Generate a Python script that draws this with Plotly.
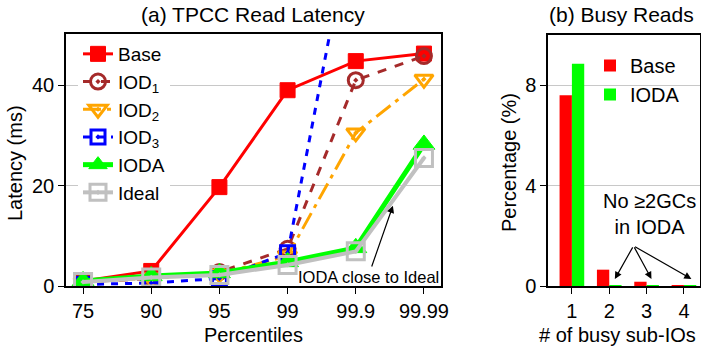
import plotly.graph_objects as go

# ---- data ----
percentiles = ["75", "90", "95", "99", "99.9", "99.99"]
base = [1.0, 3.0, 19.7, 39.0, 44.8, 46.3]
iod1 = [0.8, 1.5, 2.8, 7.4, 41.0, 45.8]
iod2 = [0.8, 1.6, 2.4, 6.0, 30.5, 41.2]
iod3 = [0.3, 0.6, 1.5, 6.6, 77.0, 85.0]
ioda = [1.0, 2.0, 2.6, 4.8, 7.6, 28.2]
ideal = [0.8, 1.7, 2.2, 4.2, 6.9, 25.5]

busy_subios = [1, 2, 3, 4]
busy_base = [7.6, 0.65, 0.17, 0.03]
busy_ioda = [8.85, 0.03, 0.03, 0.03]

FONT = "Liberation Sans, Arial, sans-serif"
FS = 20
W, H = 701, 351


def px(xp):
    return xp / W


def py(yp):
    return 1 - yp / H


fig = go.Figure()

series = [
    ("Base", base, "#ff0000", "solid", 3, "square", 15, 1),
    ("IOD<sub>1</sub>", iod1, "#a52a2a", "dash", 3, "circle-open-dot", 15, 3),
    ("IOD<sub>2</sub>", iod2, "#ffa500", "18px,6px,4px,6px", 3, "triangle-down-open-dot", 16, 3),
    ("IOD<sub>3</sub>", iod3, "#0000ff", "7px,7px", 3, "square-open-dot", 14, 3),
    ("IODA", ioda, "#00ff00", "solid", 5, "triangle-up", 19, 1),
    ("Ideal", ideal, "#c0c0c0", "solid", 4, "square-open-dot", 17, 3),
]
for name, vals, col, dash, lw, sym, ms, mlw in series:
    fig.add_trace(go.Scatter(
        x=list(range(len(percentiles))), y=vals, name=name, mode="lines+markers",
        line=dict(color=col, width=lw, dash=dash),
        marker=dict(symbol=sym, size=ms, color=col, line=dict(color=col, width=mlw)),
        xaxis="x", yaxis="y", legend="legend",
    ))

fig.add_trace(go.Bar(x=busy_subios, y=busy_base, name="Base", marker=dict(color="#ff0000", line=dict(width=0)),
                     xaxis="x2", yaxis="y2", legend="legend2"))
fig.add_trace(go.Bar(x=busy_subios, y=busy_ioda, name="IODA", marker=dict(color="#00ff00", line=dict(width=0)),
                     xaxis="x2", yaxis="y2", legend="legend2"))

axis_common = dict(showline=True, linecolor="#000000", linewidth=1.5, mirror=True,
                   tickfont=dict(family=FONT, size=FS, color="#000"), ticks="outside",
                   ticklen=6, tickcolor="#000", zeroline=False, automargin=False,
                   ticklabelstandoff=0)

fig.update_layout(
    width=W, height=H,
    margin=dict(l=0, r=0, t=0, b=0),
    paper_bgcolor="white", plot_bgcolor="white",
    font=dict(family=FONT, size=FS, color="#000"),
    bargap=0.34, barmode="group",
    xaxis=dict(domain=[px(66), px(441)], range=[-0.25, 5.25],
               tickvals=list(range(len(percentiles))), ticktext=percentiles,
               showgrid=False, anchor="y", **axis_common),
    yaxis=dict(domain=[py(286), py(34)], range=[0, 50.2],
               tickvals=[0, 20, 40], showgrid=True, gridcolor="#c8c8c8", gridwidth=1,
               anchor="x", **axis_common),
    xaxis2=dict(domain=[px(548), px(700)], range=[0.36, 4.43],
                tickvals=busy_subios, showgrid=False, anchor="y2", **axis_common),
    yaxis2=dict(domain=[py(286), py(35)], range=[0, 10],
                tickvals=[0, 4, 8], showgrid=True, gridcolor="#c8c8c8", gridwidth=1,
                anchor="x2", **axis_common),
    legend=dict(x=px(78), y=py(35), xanchor="left", yanchor="top",
                bgcolor="white", font=dict(family=FONT, size=19), tracegroupgap=0,
                itemwidth=30),
    legend2=dict(x=px(590), y=py(46), xanchor="left", yanchor="top",
                 bgcolor="rgba(0,0,0,0)", font=dict(family=FONT, size=FS)),
    showlegend=True,
)

annotations = [
    # panel titles
    dict(text="(a) TPCC Read Latency", x=px(253), y=py(14), xref="paper", yref="paper",
         showarrow=False, font=dict(size=21), xanchor="center", yanchor="middle"),
    dict(text="(b) Busy Reads", x=px(621), y=py(14), xref="paper", yref="paper",
         showarrow=False, font=dict(size=21), xanchor="center", yanchor="middle"),
    # axis titles
    dict(text="Percentiles", x=px(253), y=py(335), xref="paper", yref="paper",
         showarrow=False, font=dict(size=FS), xanchor="center", yanchor="middle"),
    dict(text="Latency (ms)", x=px(15), y=py(163), xref="paper", yref="paper", textangle=-90,
         showarrow=False, font=dict(size=FS), xanchor="center", yanchor="middle"),
    dict(text="# of busy sub-IOs", x=px(617), y=py(335), xref="paper", yref="paper",
         showarrow=False, font=dict(size=FS), xanchor="center", yanchor="middle"),
    dict(text="Percentage (%)", x=px(509), y=py(163), xref="paper", yref="paper", textangle=-90,
         showarrow=False, font=dict(size=FS), xanchor="center", yanchor="middle"),
    # callouts
    dict(text="IODA close to Ideal", x=4.545, y=16.0, ax=4.18, ay=1.8,
         xref="x", yref="y", axref="x", ayref="y",
         showarrow=True, arrowhead=2, arrowsize=1.2, arrowwidth=1.2, arrowcolor="#000",
         font=dict(size=16.5)),
    dict(text="No ≥2GCs<br>in IODA", x=px(649), y=py(214), xref="paper", yref="paper",
         showarrow=False, font=dict(size=20), xanchor="center", yanchor="middle"),
]
for hx in [2.15, 3.13, 4.2]:
    annotations.append(dict(text="", x=hx, y=0.28, ax=2.65, ay=1.6, xref="x2", yref="y2",
                            axref="x2", ayref="y2", showarrow=True, arrowhead=2,
                            arrowsize=1.2, arrowwidth=1.2, arrowcolor="#000"))
fig.update_layout(annotations=annotations)

fig.write_html("out.html")
